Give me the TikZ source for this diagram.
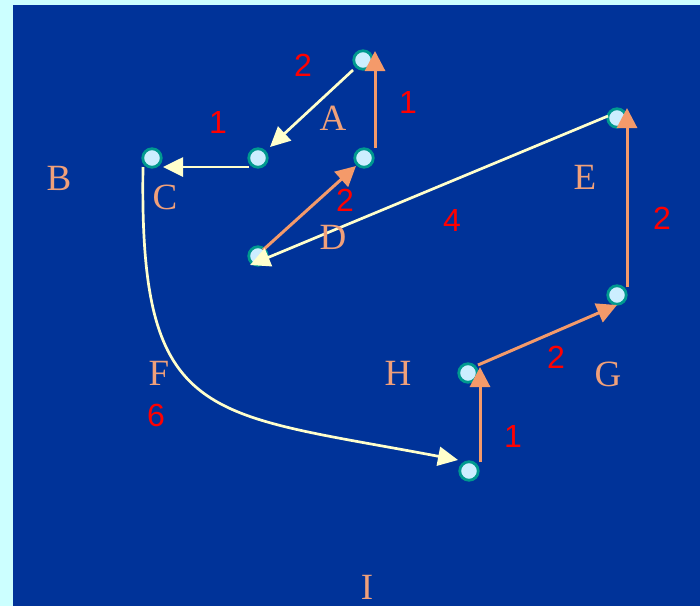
\documentclass[tikz,border=0pt]{standalone}
\usepackage{fontspec}
\setmainfont{Liberation Serif}
\newfontfamily\numfont{Liberation Sans}
\usetikzlibrary{arrows.meta,calc}
\definecolor{bgcyan}{HTML}{CCFFFF}
\definecolor{bgblue}{HTML}{003399}
\definecolor{lineorange}{HTML}{F49A6A}
\definecolor{lettercol}{HTML}{F0A07A}
\definecolor{cream}{HTML}{FFFFCC}
\definecolor{dotfill}{HTML}{CCEEFF}
\definecolor{dotedge}{HTML}{00998F}
\definecolor{numred}{HTML}{FF0000}
\begin{document}
\begin{tikzpicture}[x=1pt,y=-1pt,
 dot/.style={circle,fill=dotfill,draw=dotedge,line width=2.8pt,minimum size=18.5pt,inner sep=0pt},
 letter/.style={text=lettercol,font=\fontsize{37}{37}\selectfont,inner sep=0pt},
 weight/.style={text=numred,font=\numfont\fontsize{32}{32}\selectfont,inner sep=0pt},
 creamarrow/.style={draw=cream,line width=2.7pt,-{Triangle[length=20pt,width=19pt]}},
 orangearrow/.style={draw=lineorange,line width=3pt,-{Triangle[length=20pt,width=20pt]}}]
\fill[bgcyan] (0,0) rectangle (700,606);
\fill[bgblue] (13,5) rectangle (700,606);
\useasboundingbox (0,0) rectangle (700,606);

% dots
\node[dot] (n1) at (363,60) {};
\node[dot] (n2) at (258,158) {};
\node[dot] (n3) at (152,158) {};
\node[dot] (n4) at (364,158) {};
\node[dot] (n5) at (258,256) {};
\node[dot] (n6) at (617,118) {};
\node[dot] (n7) at (617,295) {};
\node[dot] (n8) at (468,373) {};
\node[dot] (n9) at (469,471) {};

% connectors
\draw[creamarrow] ($(n1)+(-10,10)$) -- ($(n2)+(12,-11)$);
\draw[creamarrow] ($(n2)+(-9,9)$) -- ($(n3)+(11,9)$);
\draw[orangearrow] ($(n4)+(11,-10)$) -- ($(n1)+(12,-9)$);
\draw[orangearrow] ($(n5)+(5,-6)$) -- ($(n4)+(-8,8)$);
\draw[creamarrow] ($(n6)+(-9,-2)$) -- ($(n5)+(-8,9)$);
\draw[orangearrow] ($(n7)+(10,-8)$) -- ($(n6)+(10,-10)$);
\draw[orangearrow] ($(n8)+(10,-8)$) -- ($(n7)+(0,10)$);
\draw[orangearrow] ($(n9)+(11,-9)$) -- ($(n8)+(12,-6)$);
\draw[creamarrow] ($(n3)+(-9,9)$) .. controls (139,425) and (205,412) .. ($(n9)+(-11,-11)$);

% letters
\node[letter] (lA) at (333,118) {A};
\node[letter] (lB) at (59,178) {B};
\node[letter] (lC) at (165,197) {C};
\node[letter] (lD) at (333,237) {D};
\node[letter] (lE) at (585,177) {E};
\node[letter] (lF) at (159,373) {F};
\node[letter] (lG) at (608,374) {G};
\node[letter] (lH) at (398,373) {H};
\node[letter] (lI) at (367,587) {I};

% weights
\node[weight] (w1) at (303,65) {2};
\node[weight] (w2) at (218,122) {1};
\node[weight] (w3) at (408,102) {1};
\node[weight] (w4) at (345,200) {2};
\node[weight] (w5) at (452,220) {4};
\node[weight] (w6) at (662,218) {2};
\node[weight] (w7) at (556,357) {2};
\node[weight] (w8) at (513,436) {1};
\node[weight] (w9) at (156,415) {6};
\end{tikzpicture}
\end{document}
